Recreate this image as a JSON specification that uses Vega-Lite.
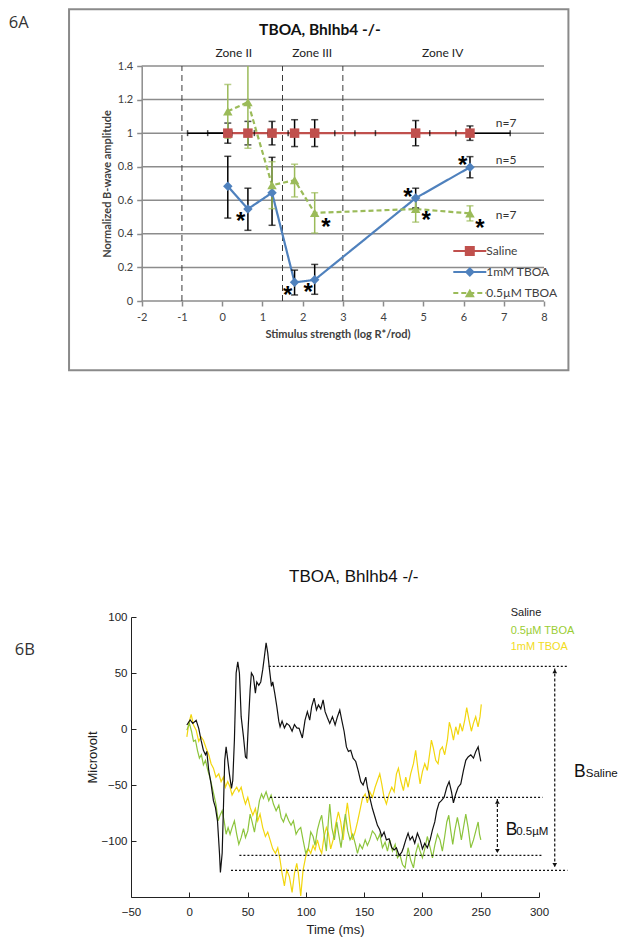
{
  "$schema": "https://vega.github.io/schema/vega-lite/v6.json",
  "background": "white",
  "padding": {"left": 8, "top": 8, "right": 0, "bottom": 0},
  "spacing": 195,
  "config": {"view": {"stroke": null}, "axis": {"labelFlush": false, "labelOverlap": false}},
  "resolve": {"scale": {"color": "independent", "shape": "independent", "strokeDash": "independent", "stroke": "independent"}, "legend": {"color": "independent", "stroke": "independent", "strokeDash": "independent"}},
  "datasets": {
    "topPts": [
      {"series": "Saline", "x": 0.14, "y": 1, "lo": 0.94, "hi": 1.06, "xlo": -0.86, "xhi": 1.14},
      {"series": "Saline", "x": 0.64, "y": 1, "lo": 0.93, "hi": 1.07, "xlo": -0.36, "xhi": 1.64},
      {"series": "Saline", "x": 1.24, "y": 1, "lo": 0.93, "hi": 1.07, "xlo": 0.24, "xhi": 2.24},
      {"series": "Saline", "x": 1.8, "y": 1, "lo": 0.92, "hi": 1.08, "xlo": 0.8, "xhi": 2.8},
      {"series": "Saline", "x": 2.3, "y": 1, "lo": 0.92, "hi": 1.08, "xlo": 1.3, "xhi": 3.3},
      {"series": "Saline", "x": 4.81, "y": 1, "lo": 0.925, "hi": 1.075, "xlo": 3.81, "xhi": 5.81},
      {"series": "Saline", "x": 6.16, "y": 1, "lo": 0.957, "hi": 1.043, "xlo": 5.16, "xhi": 7.16},
      {"series": "1mM TBOA", "x": 0.14, "y": 0.683, "lo": 0.494, "hi": 0.862},
      {"series": "1mM TBOA", "x": 0.64, "y": 0.548, "lo": 0.421, "hi": 0.672},
      {"series": "1mM TBOA", "x": 1.24, "y": 0.645, "lo": 0.451, "hi": 0.856},
      {"series": "1mM TBOA", "x": 1.8, "y": 0.111, "lo": 0.036, "hi": 0.184},
      {"series": "1mM TBOA", "x": 2.3, "y": 0.126, "lo": 0.04, "hi": 0.218},
      {"series": "1mM TBOA", "x": 4.81, "y": 0.613, "lo": 0.555, "hi": 0.672},
      {"series": "1mM TBOA", "x": 6.16, "y": 0.797, "lo": 0.734, "hi": 0.86},
      {"series": "0.5µM TBOA", "x": 0.14, "y": 1.13, "lo": 0.97, "hi": 1.29},
      {"series": "0.5µM TBOA", "x": 0.64, "y": 1.185, "lo": 0.91, "hi": 1.46},
      {"series": "0.5µM TBOA", "x": 1.24, "y": 0.69, "lo": 0.55, "hi": 0.83},
      {"series": "0.5µM TBOA", "x": 1.8, "y": 0.72, "lo": 0.62, "hi": 0.815},
      {"series": "0.5µM TBOA", "x": 2.3, "y": 0.525, "lo": 0.405, "hi": 0.645},
      {"series": "0.5µM TBOA", "x": 4.81, "y": 0.548, "lo": 0.47, "hi": 0.62},
      {"series": "0.5µM TBOA", "x": 6.16, "y": 0.522, "lo": 0.477, "hi": 0.567}
    ],
    "grid": [{"y": 0}, {"y": 0.2}, {"y": 0.4}, {"y": 0.6}, {"y": 0.8}, {"y": 1}, {"y": 1.2}, {"y": 1.4}],
    "zones": [{"x": -1}, {"x": 1.5}, {"x": 3}],
    "zoneLabels": [
      {"label": "Zone II", "x": 0.29, "y": 1.477},
      {"label": "Zone III", "x": 2.24, "y": 1.477},
      {"label": "Zone IV", "x": 5.48, "y": 1.477}
    ],
    "stars": [
      {"x": 0.46, "y": 0.502}, {"x": 2.58, "y": 0.463}, {"x": 1.63, "y": 0.06}, {"x": 2.14, "y": 0.076},
      {"x": 4.62, "y": 0.645}, {"x": 5.07, "y": 0.506}, {"x": 5.98, "y": 0.834}, {"x": 6.41, "y": 0.457}
    ],
    "nlab": [
      {"label": "n=7", "x": 7.06, "y": 1.062},
      {"label": "n=5", "x": 7.06, "y": 0.84},
      {"label": "n=7", "x": 7.06, "y": 0.512}
    ],
    "refs": [
      {"t1": 68.2, "t2": 324.4, "v": 56},
      {"t1": 69.3, "t2": 303, "v": -61},
      {"t1": 43, "t2": 303, "v": -112.9},
      {"t1": 35.8, "t2": 324.4, "v": -126.2}
    ],
    "arrows": [
      {"t": 313.5, "v1": 54, "v2": -124},
      {"t": 264.3, "v1": -62.5, "v2": -111.5}
    ],
    "heads": [
      {"t": 313.5, "v": 51.5, "d": "up"},
      {"t": 313.5, "v": -121.5, "d": "down"},
      {"t": 264.3, "v": -65, "d": "up"},
      {"t": 264.3, "v": -109, "d": "down"}
    ],
    "blegend": [
      {"label": "Saline", "t": 275.7, "v": 103.3},
      {"label": "0.5µM TBOA", "t": 275.7, "v": 87.5},
      {"label": "1mM TBOA", "t": 275.7, "v": 73.5}
    ],
    "bigB": [
      {"label": "B", "t": 330.0, "v": -42.6},
      {"label": "B", "t": 271.4, "v": -94.6}
    ],
    "subB": [
      {"label": "Saline", "t": 340.1, "v": -42.6},
      {"label": "0.5µM", "t": 280.4, "v": -94.6}
    ],
    "traces": [
      {"s": "Saline", "t": -2.1, "v": 3.6}, {"s": "Saline", "t": 0.7, "v": 8.1}, {"s": "Saline", "t": 3, "v": 5}, {"s": "Saline", "t": 5.9, "v": 7.8},
      {"s": "Saline", "t": 8.1, "v": 0.6}, {"s": "Saline", "t": 10.1, "v": -10}, {"s": "Saline", "t": 12.1, "v": -19}, {"s": "Saline", "t": 13.9, "v": -23},
      {"s": "Saline", "t": 15, "v": -20}, {"s": "Saline", "t": 16.7, "v": -37}, {"s": "Saline", "t": 18.7, "v": -49}, {"s": "Saline", "t": 20.7, "v": -64},
      {"s": "Saline", "t": 22.4, "v": -70}, {"s": "Saline", "t": 24.2, "v": -82}, {"s": "Saline", "t": 25.9, "v": -111}, {"s": "Saline", "t": 26.7, "v": -128},
      {"s": "Saline", "t": 28.2, "v": -111}, {"s": "Saline", "t": 29.3, "v": -70}, {"s": "Saline", "t": 30.4, "v": -28}, {"s": "Saline", "t": 31.6, "v": -16},
      {"s": "Saline", "t": 32.7, "v": -25}, {"s": "Saline", "t": 34.4, "v": -40}, {"s": "Saline", "t": 36.2, "v": -53}, {"s": "Saline", "t": 37.3, "v": -46},
      {"s": "Saline", "t": 38.7, "v": -10}, {"s": "Saline", "t": 40.2, "v": 50}, {"s": "Saline", "t": 41.6, "v": 60}, {"s": "Saline", "t": 43, "v": 50},
      {"s": "Saline", "t": 44.5, "v": 11}, {"s": "Saline", "t": 46.5, "v": -7}, {"s": "Saline", "t": 48.2, "v": -25}, {"s": "Saline", "t": 49.3, "v": -26},
      {"s": "Saline", "t": 50.7, "v": 5}, {"s": "Saline", "t": 52.2, "v": 35}, {"s": "Saline", "t": 53.3, "v": 50}, {"s": "Saline", "t": 55, "v": 47},
      {"s": "Saline", "t": 56.7, "v": 32}, {"s": "Saline", "t": 57.9, "v": 42}, {"s": "Saline", "t": 59.6, "v": 39}, {"s": "Saline", "t": 61.3, "v": 42},
      {"s": "Saline", "t": 63, "v": 53}, {"s": "Saline", "t": 64.5, "v": 65}, {"s": "Saline", "t": 65.9, "v": 77}, {"s": "Saline", "t": 67.3, "v": 68},
      {"s": "Saline", "t": 68.8, "v": 53}, {"s": "Saline", "t": 70.5, "v": 38}, {"s": "Saline", "t": 71.6, "v": 42}, {"s": "Saline", "t": 73.3, "v": 32},
      {"s": "Saline", "t": 75.1, "v": 20}, {"s": "Saline", "t": 76.8, "v": 7}, {"s": "Saline", "t": 77.9, "v": 2}, {"s": "Saline", "t": 79.6, "v": 7},
      {"s": "Saline", "t": 81.6, "v": 1}, {"s": "Saline", "t": 83.6, "v": 5}, {"s": "Saline", "t": 85.9, "v": 3}, {"s": "Saline", "t": 88.2, "v": -2},
      {"s": "Saline", "t": 90.2, "v": 4}, {"s": "Saline", "t": 92.2, "v": 1}, {"s": "Saline", "t": 94.2, "v": 0.6}, {"s": "Saline", "t": 97, "v": -8},
      {"s": "Saline", "t": 99.3, "v": 8}, {"s": "Saline", "t": 101.3, "v": 15.5}, {"s": "Saline", "t": 103.3, "v": 8}, {"s": "Saline", "t": 105, "v": 20},
      {"s": "Saline", "t": 107.1, "v": 27.5}, {"s": "Saline", "t": 109.1, "v": 17}, {"s": "Saline", "t": 110.8, "v": 21.5}, {"s": "Saline", "t": 112.8, "v": 18},
      {"s": "Saline", "t": 114.8, "v": 26}, {"s": "Saline", "t": 116.5, "v": 15.5}, {"s": "Saline", "t": 118.5, "v": 10}, {"s": "Saline", "t": 120.5, "v": 5},
      {"s": "Saline", "t": 122.8, "v": 11}, {"s": "Saline", "t": 125.1, "v": 3.6}, {"s": "Saline", "t": 127.1, "v": 11}, {"s": "Saline", "t": 129.1, "v": 17},
      {"s": "Saline", "t": 130.8, "v": 8}, {"s": "Saline", "t": 132.8, "v": -2}, {"s": "Saline", "t": 134.8, "v": -16}, {"s": "Saline", "t": 136.5, "v": -20},
      {"s": "Saline", "t": 138.5, "v": -19}, {"s": "Saline", "t": 140.5, "v": -26}, {"s": "Saline", "t": 142.8, "v": -29}, {"s": "Saline", "t": 145.1, "v": -38},
      {"s": "Saline", "t": 147.1, "v": -47}, {"s": "Saline", "t": 149.1, "v": -50}, {"s": "Saline", "t": 151.4, "v": -43}, {"s": "Saline", "t": 152.8, "v": -52},
      {"s": "Saline", "t": 154.8, "v": -61}, {"s": "Saline", "t": 157.1, "v": -71}, {"s": "Saline", "t": 159.4, "v": -79}, {"s": "Saline", "t": 161.4, "v": -86},
      {"s": "Saline", "t": 163.4, "v": -90}, {"s": "Saline", "t": 165.1, "v": -96}, {"s": "Saline", "t": 167.1, "v": -92}, {"s": "Saline", "t": 169.1, "v": -99},
      {"s": "Saline", "t": 171.4, "v": -98}, {"s": "Saline", "t": 173.7, "v": -106}, {"s": "Saline", "t": 175.7, "v": -108}, {"s": "Saline", "t": 177.7, "v": -106},
      {"s": "Saline", "t": 180, "v": -113}, {"s": "Saline", "t": 182.3, "v": -110}, {"s": "Saline", "t": 183.7, "v": -106}, {"s": "Saline", "t": 185.7, "v": -99},
      {"s": "Saline", "t": 187.7, "v": -93}, {"s": "Saline", "t": 189.4, "v": -99}, {"s": "Saline", "t": 191.4, "v": -96}, {"s": "Saline", "t": 193.4, "v": -102},
      {"s": "Saline", "t": 195.7, "v": -93}, {"s": "Saline", "t": 198, "v": -99}, {"s": "Saline", "t": 200, "v": -107}, {"s": "Saline", "t": 202, "v": -102},
      {"s": "Saline", "t": 204.2, "v": -106}, {"s": "Saline", "t": 206.6, "v": -99}, {"s": "Saline", "t": 208.6, "v": -90}, {"s": "Saline", "t": 210.6, "v": -83},
      {"s": "Saline", "t": 212.3, "v": -73}, {"s": "Saline", "t": 214.3, "v": -66}, {"s": "Saline", "t": 216.3, "v": -64}, {"s": "Saline", "t": 218.6, "v": -61},
      {"s": "Saline", "t": 220.9, "v": -52}, {"s": "Saline", "t": 222.9, "v": -47}, {"s": "Saline", "t": 224.9, "v": -56}, {"s": "Saline", "t": 226.6, "v": -66},
      {"s": "Saline", "t": 228.6, "v": -58}, {"s": "Saline", "t": 230.6, "v": -52}, {"s": "Saline", "t": 232.9, "v": -49}, {"s": "Saline", "t": 235.2, "v": -37},
      {"s": "Saline", "t": 237.2, "v": -28}, {"s": "Saline", "t": 239.2, "v": -25}, {"s": "Saline", "t": 241.5, "v": -23}, {"s": "Saline", "t": 243.8, "v": -26},
      {"s": "Saline", "t": 245.8, "v": -20}, {"s": "Saline", "t": 247.8, "v": -16}, {"s": "Saline", "t": 249, "v": -23}, {"s": "Saline", "t": 250.1, "v": -29},

      {"s": "1mM TBOA", "t": -2.1, "v": -7}, {"s": "1mM TBOA", "t": -0.4, "v": 5}, {"s": "1mM TBOA", "t": 1.6, "v": 13}, {"s": "1mM TBOA", "t": 3.6, "v": 3.6},
      {"s": "1mM TBOA", "t": 5.9, "v": -1}, {"s": "1mM TBOA", "t": 8.1, "v": -11}, {"s": "1mM TBOA", "t": 10.1, "v": -7}, {"s": "1mM TBOA", "t": 12.1, "v": -10},
      {"s": "1mM TBOA", "t": 14.4, "v": -17}, {"s": "1mM TBOA", "t": 16.7, "v": -23}, {"s": "1mM TBOA", "t": 18.7, "v": -31}, {"s": "1mM TBOA", "t": 20.7, "v": -35},
      {"s": "1mM TBOA", "t": 22.9, "v": -43}, {"s": "1mM TBOA", "t": 25.3, "v": -40}, {"s": "1mM TBOA", "t": 27.3, "v": -47}, {"s": "1mM TBOA", "t": 29.3, "v": -43},
      {"s": "1mM TBOA", "t": 31, "v": -52}, {"s": "1mM TBOA", "t": 33, "v": -47}, {"s": "1mM TBOA", "t": 35, "v": -52}, {"s": "1mM TBOA", "t": 36.7, "v": -59},
      {"s": "1mM TBOA", "t": 38.7, "v": -55}, {"s": "1mM TBOA", "t": 40.7, "v": -52}, {"s": "1mM TBOA", "t": 42.5, "v": -56}, {"s": "1mM TBOA", "t": 44.5, "v": -52},
      {"s": "1mM TBOA", "t": 46.5, "v": -61}, {"s": "1mM TBOA", "t": 48.2, "v": -67}, {"s": "1mM TBOA", "t": 50.2, "v": -61}, {"s": "1mM TBOA", "t": 52.2, "v": -70},
      {"s": "1mM TBOA", "t": 54.5, "v": -77}, {"s": "1mM TBOA", "t": 56.7, "v": -71}, {"s": "1mM TBOA", "t": 58.7, "v": -82}, {"s": "1mM TBOA", "t": 60.7, "v": -76},
      {"s": "1mM TBOA", "t": 63, "v": -88}, {"s": "1mM TBOA", "t": 65.3, "v": -96}, {"s": "1mM TBOA", "t": 67.3, "v": -92}, {"s": "1mM TBOA", "t": 69.3, "v": -99},
      {"s": "1mM TBOA", "t": 71.6, "v": -107}, {"s": "1mM TBOA", "t": 73.9, "v": -111}, {"s": "1mM TBOA", "t": 75.9, "v": -106}, {"s": "1mM TBOA", "t": 77.9, "v": -117},
      {"s": "1mM TBOA", "t": 79.6, "v": -129}, {"s": "1mM TBOA", "t": 81.6, "v": -140}, {"s": "1mM TBOA", "t": 83.6, "v": -126}, {"s": "1mM TBOA", "t": 85.9, "v": -132},
      {"s": "1mM TBOA", "t": 88.2, "v": -146}, {"s": "1mM TBOA", "t": 90.2, "v": -129}, {"s": "1mM TBOA", "t": 92.2, "v": -120}, {"s": "1mM TBOA", "t": 93.6, "v": -129},
      {"s": "1mM TBOA", "t": 95.6, "v": -149}, {"s": "1mM TBOA", "t": 97.6, "v": -126}, {"s": "1mM TBOA", "t": 99.9, "v": -114}, {"s": "1mM TBOA", "t": 102.2, "v": -107},
      {"s": "1mM TBOA", "t": 104.2, "v": -111}, {"s": "1mM TBOA", "t": 106.2, "v": -104}, {"s": "1mM TBOA", "t": 107.9, "v": -108}, {"s": "1mM TBOA", "t": 109.9, "v": -99},
      {"s": "1mM TBOA", "t": 111.9, "v": -107}, {"s": "1mM TBOA", "t": 113.6, "v": -111}, {"s": "1mM TBOA", "t": 115.6, "v": -96}, {"s": "1mM TBOA", "t": 117.6, "v": -88},
      {"s": "1mM TBOA", "t": 119.3, "v": -93}, {"s": "1mM TBOA", "t": 121.3, "v": -107}, {"s": "1mM TBOA", "t": 123.4, "v": -99}, {"s": "1mM TBOA", "t": 125.6, "v": -85},
      {"s": "1mM TBOA", "t": 127.9, "v": -74}, {"s": "1mM TBOA", "t": 129.9, "v": -83}, {"s": "1mM TBOA", "t": 132, "v": -99}, {"s": "1mM TBOA", "t": 134.2, "v": -77},
      {"s": "1mM TBOA", "t": 135.6, "v": -66}, {"s": "1mM TBOA", "t": 137.6, "v": -82}, {"s": "1mM TBOA", "t": 139.9, "v": -99}, {"s": "1mM TBOA", "t": 142.2, "v": -92},
      {"s": "1mM TBOA", "t": 144.3, "v": -83}, {"s": "1mM TBOA", "t": 146.3, "v": -73}, {"s": "1mM TBOA", "t": 148.5, "v": -62}, {"s": "1mM TBOA", "t": 150.9, "v": -58},
      {"s": "1mM TBOA", "t": 152.8, "v": -66}, {"s": "1mM TBOA", "t": 154.8, "v": -56}, {"s": "1mM TBOA", "t": 157.1, "v": -61}, {"s": "1mM TBOA", "t": 159.4, "v": -52},
      {"s": "1mM TBOA", "t": 161.4, "v": -46}, {"s": "1mM TBOA", "t": 163.4, "v": -40}, {"s": "1mM TBOA", "t": 165.1, "v": -49}, {"s": "1mM TBOA", "t": 167.1, "v": -61},
      {"s": "1mM TBOA", "t": 169.1, "v": -67}, {"s": "1mM TBOA", "t": 171.4, "v": -58}, {"s": "1mM TBOA", "t": 173.7, "v": -52}, {"s": "1mM TBOA", "t": 175.7, "v": -56},
      {"s": "1mM TBOA", "t": 177.7, "v": -40}, {"s": "1mM TBOA", "t": 179.4, "v": -35}, {"s": "1mM TBOA", "t": 181.4, "v": -46}, {"s": "1mM TBOA", "t": 183.7, "v": -55},
      {"s": "1mM TBOA", "t": 185.7, "v": -43}, {"s": "1mM TBOA", "t": 187.7, "v": -52}, {"s": "1mM TBOA", "t": 189.9, "v": -40}, {"s": "1mM TBOA", "t": 192.3, "v": -31},
      {"s": "1mM TBOA", "t": 194.2, "v": -19}, {"s": "1mM TBOA", "t": 196.3, "v": -37}, {"s": "1mM TBOA", "t": 198, "v": -49}, {"s": "1mM TBOA", "t": 200, "v": -38},
      {"s": "1mM TBOA", "t": 202, "v": -31}, {"s": "1mM TBOA", "t": 204.2, "v": -37}, {"s": "1mM TBOA", "t": 206.6, "v": -19}, {"s": "1mM TBOA", "t": 207.7, "v": -10},
      {"s": "1mM TBOA", "t": 209.4, "v": -17}, {"s": "1mM TBOA", "t": 211.4, "v": -28}, {"s": "1mM TBOA", "t": 213.4, "v": -31}, {"s": "1mM TBOA", "t": 215.1, "v": -19},
      {"s": "1mM TBOA", "t": 217.1, "v": -16}, {"s": "1mM TBOA", "t": 219.1, "v": -23}, {"s": "1mM TBOA", "t": 221.4, "v": -10}, {"s": "1mM TBOA", "t": 223.1, "v": 6},
      {"s": "1mM TBOA", "t": 224.9, "v": -1}, {"s": "1mM TBOA", "t": 226.6, "v": -10}, {"s": "1mM TBOA", "t": 228.6, "v": 2}, {"s": "1mM TBOA", "t": 230.6, "v": -5},
      {"s": "1mM TBOA", "t": 232.3, "v": 5}, {"s": "1mM TBOA", "t": 234.3, "v": -2}, {"s": "1mM TBOA", "t": 236.3, "v": 8}, {"s": "1mM TBOA", "t": 238, "v": 19},
      {"s": "1mM TBOA", "t": 240, "v": 8}, {"s": "1mM TBOA", "t": 242, "v": -2}, {"s": "1mM TBOA", "t": 243.7, "v": 5}, {"s": "1mM TBOA", "t": 245.7, "v": 11},
      {"s": "1mM TBOA", "t": 247.7, "v": 2}, {"s": "1mM TBOA", "t": 249.4, "v": 11}, {"s": "1mM TBOA", "t": 250.5, "v": 22},

      {"s": "0.5µM TBOA", "t": -2.1, "v": -1}, {"s": "0.5µM TBOA", "t": 0.1, "v": 5}, {"s": "0.5µM TBOA", "t": 1.9, "v": -2}, {"s": "0.5µM TBOA", "t": 3.6, "v": -11},
      {"s": "0.5µM TBOA", "t": 5.3, "v": -10}, {"s": "0.5µM TBOA", "t": 7, "v": -19}, {"s": "0.5µM TBOA", "t": 8.7, "v": -26}, {"s": "0.5µM TBOA", "t": 10.4, "v": -23},
      {"s": "0.5µM TBOA", "t": 12.1, "v": -32}, {"s": "0.5µM TBOA", "t": 13.9, "v": -28}, {"s": "0.5µM TBOA", "t": 15.9, "v": -37}, {"s": "0.5µM TBOA", "t": 17.9, "v": -44},
      {"s": "0.5µM TBOA", "t": 19.6, "v": -52}, {"s": "0.5µM TBOA", "t": 21.6, "v": -61}, {"s": "0.5µM TBOA", "t": 23, "v": -68}, {"s": "0.5µM TBOA", "t": 24.7, "v": -82},
      {"s": "0.5µM TBOA", "t": 26.4, "v": -77}, {"s": "0.5µM TBOA", "t": 28.2, "v": -73}, {"s": "0.5µM TBOA", "t": 29.9, "v": -82}, {"s": "0.5µM TBOA", "t": 31.6, "v": -94},
      {"s": "0.5µM TBOA", "t": 33.3, "v": -88}, {"s": "0.5µM TBOA", "t": 35, "v": -94}, {"s": "0.5µM TBOA", "t": 36.7, "v": -88}, {"s": "0.5µM TBOA", "t": 38.7, "v": -82},
      {"s": "0.5µM TBOA", "t": 40.7, "v": -94}, {"s": "0.5µM TBOA", "t": 42.5, "v": -103}, {"s": "0.5µM TBOA", "t": 44.5, "v": -97}, {"s": "0.5µM TBOA", "t": 46.5, "v": -89},
      {"s": "0.5µM TBOA", "t": 48.2, "v": -97}, {"s": "0.5µM TBOA", "t": 50.2, "v": -91}, {"s": "0.5µM TBOA", "t": 52.2, "v": -76}, {"s": "0.5µM TBOA", "t": 53.9, "v": -83},
      {"s": "0.5µM TBOA", "t": 55.9, "v": -92}, {"s": "0.5µM TBOA", "t": 57.9, "v": -79}, {"s": "0.5µM TBOA", "t": 60.2, "v": -64}, {"s": "0.5µM TBOA", "t": 62, "v": -58},
      {"s": "0.5µM TBOA", "t": 63.6, "v": -62}, {"s": "0.5µM TBOA", "t": 65.9, "v": -56}, {"s": "0.5µM TBOA", "t": 68.2, "v": -64}, {"s": "0.5µM TBOA", "t": 70.2, "v": -59},
      {"s": "0.5µM TBOA", "t": 72.2, "v": -67}, {"s": "0.5µM TBOA", "t": 74.5, "v": -73}, {"s": "0.5µM TBOA", "t": 76.8, "v": -68}, {"s": "0.5µM TBOA", "t": 78.8, "v": -79},
      {"s": "0.5µM TBOA", "t": 80.8, "v": -83}, {"s": "0.5µM TBOA", "t": 83, "v": -76}, {"s": "0.5µM TBOA", "t": 85.3, "v": -82}, {"s": "0.5µM TBOA", "t": 87.3, "v": -86},
      {"s": "0.5µM TBOA", "t": 89.3, "v": -82}, {"s": "0.5µM TBOA", "t": 91.6, "v": -94}, {"s": "0.5µM TBOA", "t": 93.6, "v": -90}, {"s": "0.5µM TBOA", "t": 95.6, "v": -88},
      {"s": "0.5µM TBOA", "t": 97.6, "v": -99}, {"s": "0.5µM TBOA", "t": 99.9, "v": -111}, {"s": "0.5µM TBOA", "t": 102.2, "v": -106}, {"s": "0.5µM TBOA", "t": 104.2, "v": -92},
      {"s": "0.5µM TBOA", "t": 106.2, "v": -96}, {"s": "0.5µM TBOA", "t": 107.9, "v": -104}, {"s": "0.5µM TBOA", "t": 109.9, "v": -90}, {"s": "0.5µM TBOA", "t": 111.9, "v": -82},
      {"s": "0.5µM TBOA", "t": 113.6, "v": -77}, {"s": "0.5µM TBOA", "t": 115.6, "v": -94}, {"s": "0.5µM TBOA", "t": 117.6, "v": -109}, {"s": "0.5µM TBOA", "t": 119.3, "v": -82},
      {"s": "0.5µM TBOA", "t": 120.5, "v": -67}, {"s": "0.5µM TBOA", "t": 122.3, "v": -88}, {"s": "0.5µM TBOA", "t": 124.5, "v": -99}, {"s": "0.5µM TBOA", "t": 126.5, "v": -83},
      {"s": "0.5µM TBOA", "t": 128.2, "v": -94}, {"s": "0.5µM TBOA", "t": 130.2, "v": -106}, {"s": "0.5µM TBOA", "t": 132.2, "v": -88}, {"s": "0.5µM TBOA", "t": 133.9, "v": -76},
      {"s": "0.5µM TBOA", "t": 135.9, "v": -91}, {"s": "0.5µM TBOA", "t": 137.9, "v": -99}, {"s": "0.5µM TBOA", "t": 140.2, "v": -94}, {"s": "0.5µM TBOA", "t": 142.5, "v": -103},
      {"s": "0.5µM TBOA", "t": 144.3, "v": -111}, {"s": "0.5µM TBOA", "t": 146.3, "v": -103}, {"s": "0.5µM TBOA", "t": 148.5, "v": -107}, {"s": "0.5µM TBOA", "t": 150.9, "v": -99},
      {"s": "0.5µM TBOA", "t": 152.8, "v": -104}, {"s": "0.5µM TBOA", "t": 154.8, "v": -99}, {"s": "0.5µM TBOA", "t": 157.1, "v": -91}, {"s": "0.5µM TBOA", "t": 159.4, "v": -94},
      {"s": "0.5µM TBOA", "t": 161.4, "v": -99}, {"s": "0.5µM TBOA", "t": 163.4, "v": -94}, {"s": "0.5µM TBOA", "t": 165.7, "v": -106}, {"s": "0.5µM TBOA", "t": 168, "v": -101},
      {"s": "0.5µM TBOA", "t": 170, "v": -109}, {"s": "0.5µM TBOA", "t": 172, "v": -99}, {"s": "0.5µM TBOA", "t": 174.3, "v": -109}, {"s": "0.5µM TBOA", "t": 176.6, "v": -103},
      {"s": "0.5µM TBOA", "t": 178.6, "v": -115}, {"s": "0.5µM TBOA", "t": 180.6, "v": -112}, {"s": "0.5µM TBOA", "t": 182.9, "v": -121}, {"s": "0.5µM TBOA", "t": 185.1, "v": -124},
      {"s": "0.5µM TBOA", "t": 187.7, "v": -106}, {"s": "0.5µM TBOA", "t": 189.9, "v": -117}, {"s": "0.5µM TBOA", "t": 192.3, "v": -124}, {"s": "0.5µM TBOA", "t": 194.2, "v": -111},
      {"s": "0.5µM TBOA", "t": 196.3, "v": -103}, {"s": "0.5µM TBOA", "t": 198, "v": -109}, {"s": "0.5µM TBOA", "t": 200, "v": -115}, {"s": "0.5µM TBOA", "t": 202, "v": -107},
      {"s": "0.5µM TBOA", "t": 204.2, "v": -96}, {"s": "0.5µM TBOA", "t": 206.6, "v": -106}, {"s": "0.5µM TBOA", "t": 208.6, "v": -115}, {"s": "0.5µM TBOA", "t": 210.6, "v": -104},
      {"s": "0.5µM TBOA", "t": 212.9, "v": -94}, {"s": "0.5µM TBOA", "t": 215.1, "v": -99}, {"s": "0.5µM TBOA", "t": 217.1, "v": -109}, {"s": "0.5µM TBOA", "t": 219.1, "v": -96},
      {"s": "0.5µM TBOA", "t": 220.9, "v": -83}, {"s": "0.5µM TBOA", "t": 222.6, "v": -77}, {"s": "0.5µM TBOA", "t": 224.3, "v": -91}, {"s": "0.5µM TBOA", "t": 226, "v": -103},
      {"s": "0.5µM TBOA", "t": 227.7, "v": -91}, {"s": "0.5µM TBOA", "t": 230, "v": -79}, {"s": "0.5µM TBOA", "t": 231.7, "v": -88}, {"s": "0.5µM TBOA", "t": 233.4, "v": -99},
      {"s": "0.5µM TBOA", "t": 235.2, "v": -88}, {"s": "0.5µM TBOA", "t": 237.2, "v": -76}, {"s": "0.5µM TBOA", "t": 239.2, "v": -88}, {"s": "0.5µM TBOA", "t": 241.5, "v": -106},
      {"s": "0.5µM TBOA", "t": 243.8, "v": -99}, {"s": "0.5µM TBOA", "t": 245.8, "v": -91}, {"s": "0.5µM TBOA", "t": 247.8, "v": -83}, {"s": "0.5µM TBOA", "t": 249, "v": -94},
      {"s": "0.5µM TBOA", "t": 250.1, "v": -99}
    ]
  },
  "vconcat": [
    {
      "width": 413,
      "height": 235,
      "layer": [
        {
          "data": {"values": [{}]},
          "mark": {"type": "rect", "fill": "transparent", "stroke": "#8a8a8a", "strokeWidth": 2},
          "encoding": {
            "x": {"datum": -3.806, "type": "quantitative"},
            "x2": {"datum": 8.607},
            "y": {"datum": 1.738, "type": "quantitative"},
            "y2": {"datum": -0.413}
          }
        },
        {
          "data": {"name": "grid"},
          "mark": {"type": "rule", "stroke": "#8c8c8c", "strokeWidth": 1.5},
          "encoding": {
            "x": {"datum": -2, "type": "quantitative"},
            "x2": {"datum": 8},
            "y": {"field": "y", "type": "quantitative"}
          }
        },
        {
          "data": {"name": "zones"},
          "mark": {"type": "rule", "stroke": "#3a3a3a", "strokeWidth": 1, "strokeDash": [6, 4]},
          "encoding": {
            "x": {"field": "x", "type": "quantitative"},
            "y": {"datum": 0, "type": "quantitative"},
            "y2": {"datum": 1.4}
          }
        },
        {
          "data": {"name": "topPts"},
          "transform": [{"filter": "datum.series === 'Saline'"}],
          "mark": {"type": "rule", "stroke": "black", "strokeWidth": 1.5},
          "encoding": {
            "x": {"field": "xlo", "type": "quantitative"},
            "x2": {"field": "xhi"},
            "y": {"field": "y", "type": "quantitative"}
          }
        },
        {
          "data": {"name": "topPts"},
          "mark": {"type": "line", "strokeWidth": 2.2},
          "encoding": {
            "x": {
              "field": "x", "type": "quantitative",
              "scale": {"domain": [-2.266, 8], "nice": false, "zero": false},
              "axis": {
                "values": [-2, -1, 0, 1, 2, 3, 4, 5, 6, 7, 8], "tickCount": 20, "format": "~g",
                "domain": false, "grid": false, "labelOverlap": false, "labelFlush": false,
                "tickSize": 5, "tickColor": "#8c8c8c", "tickWidth": 1.5,
                "labelPadding": 5, "labelFont": "Lato", "labelFontSize": 11, "labelColor": "#404040",
                "labelExpr": "replace(datum.label, '−', '-')",
                "title": "Stimulus strength (log R*/rod)",
                "titleFont": "Lato", "titleFontSize": 11, "titleFontWeight": "bold", "titleColor": "#404040", "titlePadding": 6
              }
            },
            "y": {
              "field": "y", "type": "quantitative",
              "scale": {"domain": [0, 1.4], "nice": false, "zero": false},
              "axis": {
                "values": [0, 0.2, 0.4, 0.6, 0.8, 1, 1.2, 1.4], "tickCount": 20,
                "format": "~g",
                "offset": -10.7, "labelOverlap": false, "labelFlush": false,
                "domainColor": "#8c8c8c", "domainWidth": 1.5,
                "tickColor": "#8c8c8c", "tickWidth": 1.5, "tickSize": 5, "grid": false,
                "labelPadding": 4, "labelFont": "Lato", "labelFontSize": 11, "labelColor": "#404040",
                "title": "Normalized B-wave amplitude",
                "titleFont": "Lato", "titleFontSize": 11, "titleFontWeight": "bold", "titleColor": "#404040", "titlePadding": 5
              }
            },
            "stroke": {
              "field": "series", "type": "nominal",
              "scale": {"domain": ["Saline", "1mM TBOA", "0.5µM TBOA", "~"], "range": ["#C0504D", "#4F81BD", "#9BBB59", "#ffffff"]},
              "legend": {
                "orient": "none", "legendX": 332.8, "legendY": 179, "title": null, "padding": 0,
                "values": ["Saline", "1mM TBOA", "0.5µM TBOA"],
                "labelExpr": "''", "labelFont": "Lato", "labelFontSize": 12,
                "symbolType": "M-3.3,0H3.3", "symbolSize": 100, "symbolStrokeWidth": 2,
                "labelOffset": 10.5, "rowPadding": 9
              }
            },
            "strokeDash": {
              "field": "series", "type": "nominal",
              "scale": {"domain": ["Saline", "1mM TBOA", "0.5µM TBOA", "~"], "range": [[1, 0], [1, 0], [5, 3], [1, 0]]},
              "legend": {
                "orient": "none", "legendX": 332.8, "legendY": 179, "title": null, "padding": 0,
                "values": ["Saline", "1mM TBOA", "0.5µM TBOA"],
                "labelExpr": "''", "labelFont": "Lato", "labelFontSize": 12,
                "symbolType": "M-3.3,0H3.3", "symbolSize": 100, "symbolStrokeWidth": 2,
                "labelOffset": 10.5, "rowPadding": 9
              }
            }
          }
        },
        {
          "data": {"name": "topPts"},
          "transform": [{"filter": "datum.series === 'Saline'"}, {"fold": ["xlo", "xhi"], "as": ["k", "xe"]}],
          "mark": {"type": "tick", "orient": "vertical", "size": 6, "thickness": 1.5, "color": "black"},
          "encoding": {
            "x": {"field": "xe", "type": "quantitative"},
            "y": {"field": "y", "type": "quantitative"}
          }
        },
        {
          "data": {"name": "topPts"},
          "transform": [{"filter": "datum.series !== '0.5µM TBOA'"}],
          "mark": {"type": "rule", "stroke": "black", "strokeWidth": 1.5},
          "encoding": {
            "x": {"field": "x", "type": "quantitative"},
            "y": {"field": "lo", "type": "quantitative"},
            "y2": {"field": "hi"}
          }
        },
        {
          "data": {"name": "topPts"},
          "transform": [{"filter": "datum.series !== '0.5µM TBOA'"}, {"fold": ["lo", "hi"], "as": ["k", "ye"]}],
          "mark": {"type": "tick", "orient": "horizontal", "size": 7, "thickness": 1.5, "color": "black"},
          "encoding": {
            "x": {"field": "x", "type": "quantitative"},
            "y": {"field": "ye", "type": "quantitative"}
          }
        },
        {
          "data": {"name": "topPts"},
          "transform": [{"filter": "datum.series === '0.5µM TBOA'"}],
          "mark": {"type": "rule", "stroke": "#9BBB59", "strokeWidth": 1.5, "clip": true},
          "encoding": {
            "x": {"field": "x", "type": "quantitative"},
            "y": {"field": "lo", "type": "quantitative"},
            "y2": {"field": "hi"}
          }
        },
        {
          "data": {"name": "topPts"},
          "transform": [{"filter": "datum.series === '0.5µM TBOA'"}, {"fold": ["lo", "hi"], "as": ["k", "ye"]}],
          "mark": {"type": "tick", "orient": "horizontal", "size": 7, "thickness": 1.5, "color": "#9BBB59", "clip": true},
          "encoding": {
            "x": {"field": "x", "type": "quantitative"},
            "y": {"field": "ye", "type": "quantitative"}
          }
        },
        {
          "data": {"name": "topPts"},
          "mark": {"type": "point", "filled": true, "size": 90, "opacity": 1},
          "encoding": {
            "x": {"field": "x", "type": "quantitative"},
            "y": {"field": "y", "type": "quantitative"},
            "color": {
              "field": "series", "type": "nominal",
              "scale": {"domain": ["Saline", "1mM TBOA", "0.5µM TBOA"], "range": ["#C0504D", "#4F81BD", "#9BBB59"]},
              "legend": {
                "orient": "none", "legendX": 332.8, "legendY": 179, "title": null, "padding": 0,
                "labelFont": "Lato", "labelFontSize": 12, "labelColor": "#404040",
                "symbolSize": 100, "labelOffset": 10.5, "rowPadding": 9, "symbolStrokeWidth": 2
              }
            },
            "shape": {
              "field": "series", "type": "nominal",
              "scale": {"domain": ["Saline", "1mM TBOA", "0.5µM TBOA"], "range": ["square", "diamond", "triangle-up"]}
            }
          }
        },
        {
          "data": {"name": "stars"},
          "mark": {"type": "text", "text": "*", "font": "Liberation Sans", "fontSize": 24, "fontWeight": "bold", "color": "black", "align": "center", "baseline": "middle", "dy": 5},
          "encoding": {
            "x": {"field": "x", "type": "quantitative"},
            "y": {"field": "y", "type": "quantitative"}
          }
        },
        {
          "data": {"name": "nlab"},
          "mark": {"type": "text", "font": "Lato", "fontSize": 12, "color": "#333333", "align": "center", "baseline": "middle"},
          "encoding": {
            "x": {"field": "x", "type": "quantitative"},
            "y": {"field": "y", "type": "quantitative"},
            "text": {"field": "label"}
          }
        },
        {
          "data": {"name": "zoneLabels"},
          "mark": {"type": "text", "font": "Lato", "fontSize": 12, "color": "#222222", "align": "center", "baseline": "middle"},
          "encoding": {
            "x": {"field": "x", "type": "quantitative"},
            "y": {"field": "y", "type": "quantitative"},
            "text": {"field": "label"}
          }
        },
        {
          "data": {"values": [{}]},
          "mark": {"type": "text", "text": "TBOA, Bhlhb4 -/-", "font": "Lato", "fontSize": 15.5, "fontWeight": "bold", "color": "#111111", "align": "center", "baseline": "middle"},
          "encoding": {
            "x": {"datum": 2.43, "type": "quantitative"},
            "y": {"datum": 1.617, "type": "quantitative"}
          }
        },
        {
          "data": {"values": [{}]},
          "mark": {"type": "text", "text": "6A", "font": "Open Sans", "fontSize": 16.5, "color": "#333333", "align": "center", "baseline": "middle"},
          "encoding": {
            "x": {"datum": -5.057, "type": "quantitative"},
            "y": {"datum": 1.656, "type": "quantitative"}
          }
        }
      ]
    },
    {
      "width": 408,
      "height": 280,
      "layer": [
        {
          "data": {"name": "traces"},
          "transform": [{"filter": "datum.s === '1mM TBOA'"}],
          "mark": {"type": "line", "stroke": "#F2D60E", "strokeWidth": 1.2},
          "encoding": {
            "x": {
              "field": "t", "type": "quantitative",
              "scale": {"domain": [-50, 300], "nice": false, "zero": false},
              "axis": {
                "values": [-50, 0, 50, 100, 150, 200, 250, 300], "tickCount": 20,
                "title": "Time (ms)", "grid": false, "labelOverlap": false, "labelFlush": false,
                "domainColor": "#222222", "tickColor": "#222222", "tickSize": -5, "labelPadding": 14,
                "labelFont": "Liberation Sans", "labelFontSize": 11.5, "labelColor": "#222222",
                "titleFont": "Liberation Sans", "titleFontSize": 13, "titleFontWeight": "normal", "titleColor": "#222222", "titlePadding": 6
              }
            },
            "y": {
              "field": "v", "type": "quantitative",
              "scale": {"domain": [-150, 100], "nice": false, "zero": false},
              "axis": {
                "values": [-100, -50, 0, 50, 100], "tickCount": 20,
                "title": "Microvolt", "grid": false, "labelOverlap": false, "labelFlush": false,
                "domainColor": "#222222", "tickColor": "#222222", "tickSize": -5, "labelPadding": 9,
                "labelFont": "Liberation Sans", "labelFontSize": 11.5, "labelColor": "#222222",
                "titleFont": "Liberation Sans", "titleFontSize": 13, "titleFontWeight": "normal", "titleColor": "#222222", "titlePadding": 2
              }
            }
          }
        },
        {
          "data": {"name": "traces"},
          "transform": [{"filter": "datum.s === '0.5µM TBOA'"}],
          "mark": {"type": "line", "stroke": "#8CC43C", "strokeWidth": 1.2},
          "encoding": {
            "x": {"field": "t", "type": "quantitative"},
            "y": {"field": "v", "type": "quantitative"}
          }
        },
        {
          "data": {"name": "traces"},
          "transform": [{"filter": "datum.s === 'Saline'"}],
          "mark": {"type": "line", "stroke": "#111111", "strokeWidth": 1.2},
          "encoding": {
            "x": {"field": "t", "type": "quantitative"},
            "y": {"field": "v", "type": "quantitative"}
          }
        },
        {
          "data": {"name": "refs"},
          "mark": {"type": "rule", "stroke": "#111111", "strokeWidth": 1.3, "strokeDash": [2, 2]},
          "encoding": {
            "x": {"field": "t1", "type": "quantitative"},
            "x2": {"field": "t2"},
            "y": {"field": "v", "type": "quantitative"}
          }
        },
        {
          "data": {"name": "arrows"},
          "mark": {"type": "rule", "stroke": "#111111", "strokeWidth": 1.2, "strokeDash": [3, 2]},
          "encoding": {
            "x": {"field": "t", "type": "quantitative"},
            "y": {"field": "v1", "type": "quantitative"},
            "y2": {"field": "v2"}
          }
        },
        {
          "data": {"name": "heads"},
          "mark": {"type": "point", "filled": true, "size": 22, "color": "#111111", "opacity": 1},
          "encoding": {
            "x": {"field": "t", "type": "quantitative"},
            "y": {"field": "v", "type": "quantitative"},
            "shape": {"field": "d", "type": "nominal", "scale": {"domain": ["up", "down"], "range": ["triangle-up", "triangle-down"]}, "legend": null}
          }
        },
        {
          "data": {"name": "blegend"},
          "mark": {"type": "text", "font": "Liberation Sans", "fontSize": 11, "align": "left", "baseline": "middle"},
          "encoding": {
            "x": {"field": "t", "type": "quantitative"},
            "y": {"field": "v", "type": "quantitative"},
            "text": {"field": "label"},
            "color": {"field": "label", "type": "nominal", "scale": {"domain": ["Saline", "0.5µM TBOA", "1mM TBOA"], "range": ["#222222", "#9ACD32", "#F2DC1C"]}, "legend": null}
          }
        },
        {
          "data": {"name": "bigB"},
          "mark": {"type": "text", "font": "Liberation Sans", "fontSize": 17.5, "color": "#111111", "align": "left", "baseline": "alphabetic"},
          "encoding": {
            "x": {"field": "t", "type": "quantitative"},
            "y": {"field": "v", "type": "quantitative"},
            "text": {"field": "label"}
          }
        },
        {
          "data": {"name": "subB"},
          "mark": {"type": "text", "font": "Liberation Sans", "fontSize": 11.5, "color": "#111111", "align": "left", "baseline": "alphabetic"},
          "encoding": {
            "x": {"field": "t", "type": "quantitative"},
            "y": {"field": "v", "type": "quantitative"},
            "text": {"field": "label"}
          }
        },
        {
          "data": {"values": [{}]},
          "mark": {"type": "text", "text": "TBOA, Bhlhb4 -/-", "font": "Liberation Sans", "fontSize": 17, "color": "#111111", "align": "center", "baseline": "middle"},
          "encoding": {
            "x": {"datum": 141.1, "type": "quantitative"},
            "y": {"datum": 136.0, "type": "quantitative"}
          }
        },
        {
          "data": {"values": [{}]},
          "mark": {"type": "text", "text": "6B", "font": "Open Sans", "fontSize": 16.5, "color": "#333333", "align": "center", "baseline": "middle"},
          "encoding": {
            "x": {"datum": -141.1, "type": "quantitative"},
            "y": {"datum": 70.5, "type": "quantitative"}
          }
        }
      ]
    }
  ]
}
